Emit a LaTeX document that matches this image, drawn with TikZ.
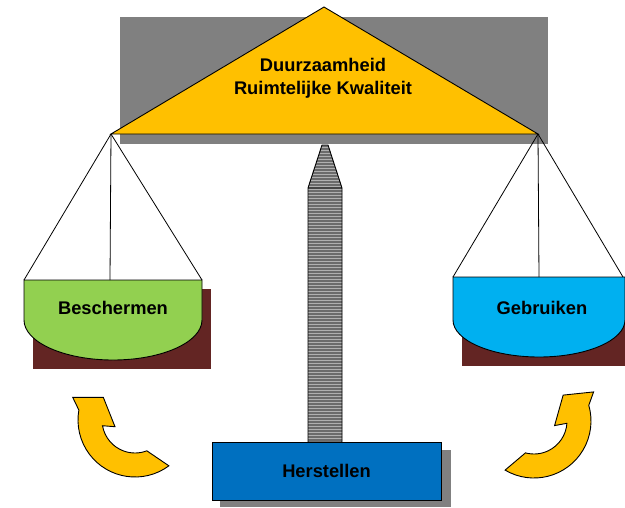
\documentclass[tikz,border=0pt]{standalone}
\usepackage{fontspec}
\setmainfont{Liberation Sans}

\definecolor{gold}{HTML}{FFC000}
\definecolor{leaf}{HTML}{92D050}
\definecolor{sky}{HTML}{00B0F0}
\definecolor{deepblue}{HTML}{0070C0}
\definecolor{rust}{HTML}{632523}
\definecolor{shadowgray}{HTML}{808080}

\tikzset{
  word/.style={font=\bfseries\fontsize{18.3}{22.5}\selectfont, align=center},
  outline/.style={draw=black, line width=0.9pt},
  cord/.style={draw=black, line width=0.8pt},
  curl/.pic={
    \filldraw[outline, fill=gold] (69:33) -- (53.5:57)
      arc[start angle=53.5, end angle=190, radius=57]
      -- (-62.3,-22.7) -- (-31.7,-22.7) -- (-20,6.7) -- (170:33)
      arc[start angle=170, end angle=69, radius=33] -- cycle;
  }
}

\begin{document}
\begin{tikzpicture}[x=1pt, y=-1pt]
                    \useasboundingbox (0,0) rectangle (625,507);
                    % beam
                    \coordinate (apex) at (324,7);
                    \coordinate (tl) at (111,134);
                    \coordinate (tr) at (538,134);
                    \fill[shadowgray] (120,17) rectangle (548,144);
                    \filldraw[outline, fill=gold] (tl) -- (apex) -- (tr) -- cycle;
                    \node[word] (duur) at (323,78.5) {Duurzaamheid\\Ruimtelijke Kwaliteit};
                    % pillar
                    \begin{scope}
                      \clip (322,145) -- (328,145) -- (342,188) -- (342,442) -- (308,442) -- (308,188) -- cycle;
                      \fill[gray!62] (300,140) rectangle (350,445);
                      \foreach \y in {146,149,...,441}
                        \draw[line width=1.4pt, black!58] (300,\y) -- (350,\y);
                    \end{scope}
                    \draw[outline] (322,145) -- (328,145) -- (342,188) -- (342,442) -- (308,442) -- (308,188) -- cycle
                                   (308,188) -- (342,188);
                    % base
                    \fill[shadowgray] (220,450) rectangle (451,507);
                    \node[outline, fill=deepblue, minimum width=229pt, minimum height=58pt, inner sep=0pt, word] (herstellen) at (326.5,471) {Herstellen};
                    % left pan
                    \fill[rust] (33,289) rectangle (211,369);
                    \filldraw[outline, fill=leaf] (24,280) coordinate (lpL) -- (24,320)
                      arc[start angle=180, end angle=0, x radius=89, y radius=40] -- (202,280) coordinate (lpR) -- cycle;
                    \coordinate (lpM) at (110,280);
                    \foreach \p in {lpL,lpM,lpR}
                      \draw[cord] (tl) -- (\p);
                    \node[word] (beschermen) at (113,308) {Beschermen};
                    % right pan
                    \fill[rust] (462,286) rectangle (625,366);
                    \filldraw[outline, fill=sky] (453,277) coordinate (rpL) -- (453,320)
                      arc[start angle=180, end angle=0, x radius=86, y radius=37] -- (625,277) coordinate (rpR) -- cycle;
                    \coordinate (rpM) at (539,277);
                    \coordinate (rpE) at (623,277);
                    \foreach \p in {rpL,rpM,rpE}
                      \draw[cord] (tr) -- (\p);
                    \node[word] (gebruiken) at (542,308) {Gebruiken};
                    % arrows
                    \pic at (135,420) {curl};
                    \pic[rotate=6, xscale=-1] at (534,421) {curl};
                \end{tikzpicture}
\end{document}
